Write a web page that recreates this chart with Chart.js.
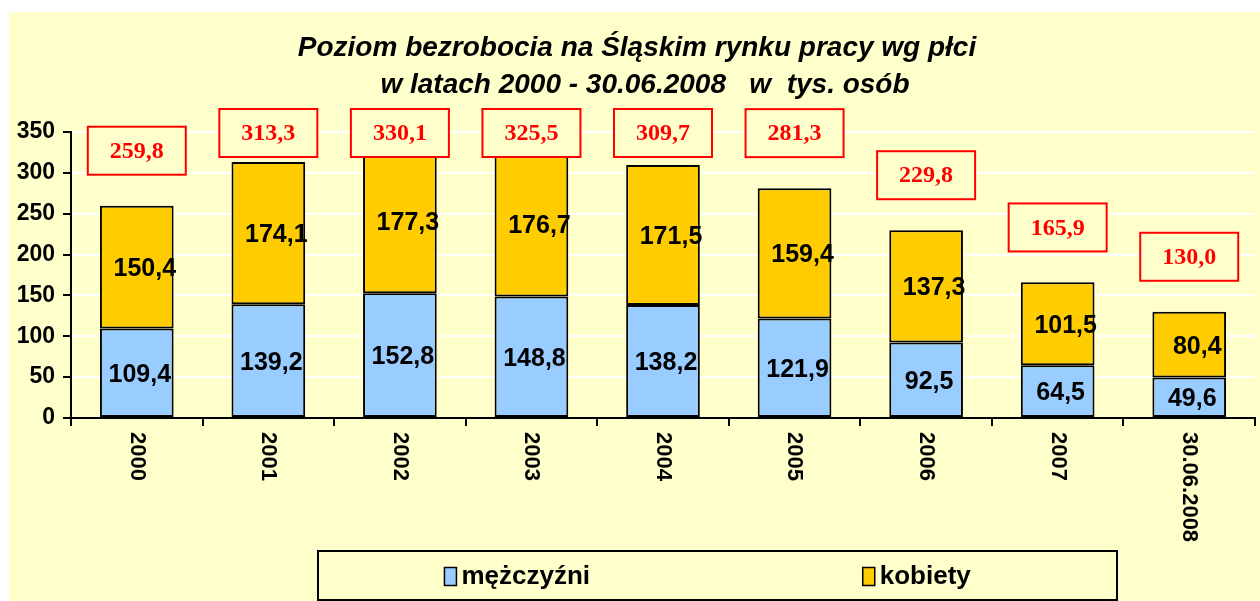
<!DOCTYPE html>
<html>
<head>
<meta charset="utf-8">
<script src="https://cdn.jsdelivr.net/npm/chart.js@4"></script>
<style>
  html, body { margin: 0; padding: 0; background: #fff; }
  #wrap { width: 1260px; height: 601px; }
</style>
</head>
<body>
<div id="wrap"><canvas id="chart" width="1260" height="601"></canvas></div>
<script>
    // Data
    const categories = ['2000', '2001', '2002', '2003', '2004', '2005', '2006', '2007', '30.06.2008'];
    const men = [109.4, 139.2, 152.8, 148.8, 138.2, 121.9, 92.5, 64.5, 49.6];
    const women = [150.4, 174.1, 177.3, 176.7, 171.5, 159.4, 137.3, 101.5, 80.4];
    const totals = [259.8, 313.3, 330.1, 325.5, 309.7, 281.3, 229.8, 165.9, 130.0];
    const titleLines = ['Poziom bezrobocia na Śląskim rynku pracy wg płci', 'w latach 2000 - 30.06.2008   w  tys. osób'];
    const seriesNames = ['mężczyźni', 'kobiety'];

    const BG = '#FFFFCC';
    const SANS = 'Arial, "Liberation Sans", sans-serif';
    const fmt = v => v.toFixed(1).replace('.', ',');

    const backgroundPlugin = {
        id: 'background',
        beforeDraw(chart) {
            const ctx = chart.ctx;
            ctx.save();
            ctx.fillStyle = '#fff';
            ctx.fillRect(0, 0, chart.width, chart.height);
            ctx.fillStyle = BG;
            ctx.fillRect(9, 12, chart.width - 9, chart.height - 12);
            ctx.restore();
        }
    };

    const labelsPlugin = {
        id: 'barLabels',
        afterDatasetsDraw(chart) {
            const ctx = chart.ctx;
            const y = chart.scales.y;
            ctx.save();
            ctx.font = 'bold 25px ' + SANS;
            ctx.fillStyle = '#000';
            ctx.textAlign = 'center';
            ctx.textBaseline = 'middle';
            chart.data.datasets.forEach((ds, di) => {
                const meta = chart.getDatasetMeta(di);
                meta.data.forEach((bar, i) => {
                    const mid = (bar.y + bar.base) / 2;
                    ctx.fillText(fmt(ds.data[i]), bar.x + (di === 1 ? 8 : 3), mid + 2);
                });
            });

            // total boxes
            const meta0 = chart.getDatasetMeta(0);
            ctx.font = 'bold 24px "Times New Roman", "Liberation Serif", serif';
            totals.forEach((t, i) => {
                const cx = meta0.data[i].x;
                const cy = Math.max(y.getPixelForValue(t) - 55, chart.chartArea.top + 1);
                const w = 98, h = 48;
                ctx.fillStyle = BG;
                ctx.fillRect(cx - w / 2, cy - h / 2, w, h);
                ctx.strokeStyle = '#FF0000';
                ctx.lineWidth = 2;
                ctx.strokeRect(cx - w / 2, cy - h / 2, w, h);
                ctx.fillStyle = '#FF0000';
                ctx.fillText(fmt(t), cx, cy + 1);
            });
            ctx.restore();
        },
        afterDraw(chart) {
            const ctx = chart.ctx;
            const x = chart.scales.x;
            ctx.save();
            // title
            ctx.fillStyle = '#000';
            ctx.textAlign = 'center';
            ctx.textBaseline = 'middle';
            ctx.font = 'italic bold 28px ' + SANS;
            ctx.fillText(titleLines[0], 637, 48);
            ctx.fillText(titleLines[1], 645, 85);

            // rotated category labels (reading top to bottom)
            ctx.font = 'bold 22px ' + SANS;
            ctx.textAlign = 'left';
            categories.forEach((c, i) => {
                const px = x.getPixelForValue(i);
                ctx.save();
                ctx.translate(px, 432);
                ctx.rotate(Math.PI / 2);
                ctx.fillText(c, 0, 0);
                ctx.restore();
            });

            // legend
            const lx = 318, ly = 551, lw = 799, lh = 49;
            ctx.strokeStyle = '#000';
            ctx.lineWidth = 2;
            ctx.strokeRect(lx, ly, lw, lh);
            ctx.textBaseline = 'middle';
            const cy = ly + lh / 2 + 1;
            chart.data.datasets.forEach((ds, di) => {
                ctx.font = 'bold 26px ' + SANS;
                const tw = ctx.measureText(ds.label).width;
                const cx = lx + lw * (di === 0 ? 0.25 : 0.75);
                const start = cx - (tw + 18) / 2;
                ctx.fillStyle = ds.backgroundColor;
                ctx.fillRect(start, cy - 9, 12, 18);
                ctx.lineWidth = 1.5;
                ctx.strokeRect(start, cy - 9, 12, 18);
                ctx.fillStyle = '#000';
                ctx.textAlign = 'left';
                ctx.fillText(ds.label, start + 17, cy);
            });
            ctx.restore();
        }
    };

    const ctx = document.getElementById('chart').getContext('2d');
    new Chart(ctx, {
        type: 'bar',
        data: {
            labels: categories,
            datasets: [
                {
                    label: seriesNames[0],
                    data: men,
                    backgroundColor: '#99CCFF',
                    borderColor: '#000',
                    borderWidth: 2,
                    borderSkipped: false,
                    barPercentage: 0.56,
                    categoryPercentage: 1
                },
                {
                    label: seriesNames[1],
                    data: women,
                    backgroundColor: '#FFCC00',
                    borderColor: '#000',
                    borderWidth: 2,
                    borderSkipped: false,
                    barPercentage: 0.56,
                    categoryPercentage: 1
                }
            ]
        },
        options: {
            responsive: false,
            animation: false,
            devicePixelRatio: 1,
            layout: { padding: { top: 132, right: 5, left: 0, bottom: 0 } },
            plugins: {
                legend: { display: false },
                title: { display: false },
                tooltip: { enabled: false }
            },
            scales: {
                x: {
                    stacked: true,
                    offset: true,
                    ticks: { display: false },
                    grid: {
                        offset: true,
                        drawOnChartArea: false,
                        color: '#000',
                        lineWidth: 2,
                        tickLength: 8
                    },
                    border: { color: '#000', width: 2 },
                    afterFit: s => { s.height = 183; }
                },
                y: {
                    stacked: true,
                    min: 0,
                    max: 350,
                    ticks: {
                        stepSize: 50,
                        color: '#000',
                        padding: 8,
                        font: { family: SANS, size: 23, weight: 'bold' }
                    },
                    grid: {
                        color: '#FFFFFF',
                        lineWidth: 2,
                        tickColor: '#000',
                        tickLength: 8
                    },
                    border: { color: '#000', width: 2 },
                    afterFit: s => { s.width = 71; }
                }
            }
        },
        plugins: [backgroundPlugin, labelsPlugin]
    });
</script>
</body>
</html>
